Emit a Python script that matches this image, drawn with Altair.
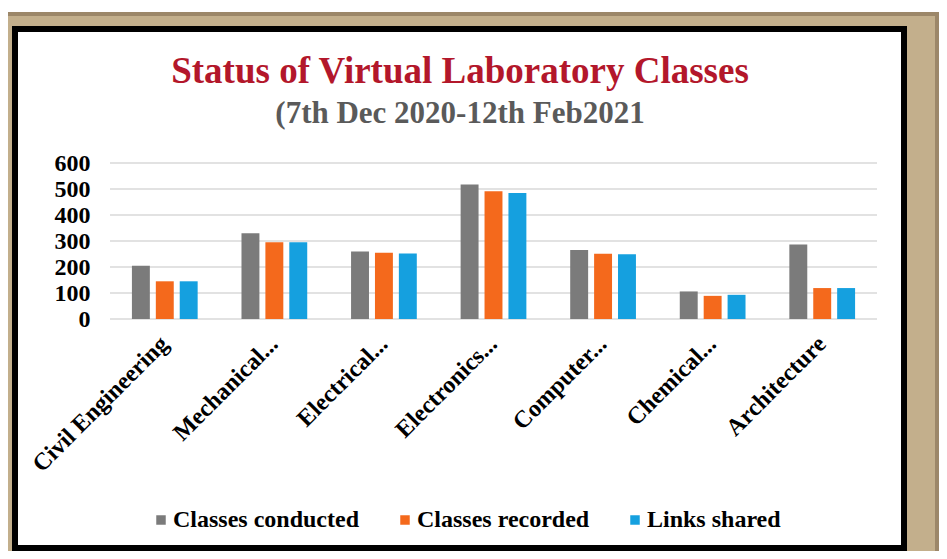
import altair as alt
import pandas as pd

# ---- data ----
categories = ["Civil Engineering", "Mechanical...", "Electrical...", "Electronics...",
              "Computer...", "Chemical...", "Architecture"]
series = ["Classes conducted", "Classes recorded", "Links shared"]
conducted = [205, 330, 260, 517, 265, 106, 287]
recorded = [145, 295, 255, 491, 251, 89, 119]
links = [145, 295, 252, 485, 249, 93, 119]
y_ticks = [0, 100, 200, 300, 400, 500, 600]
colors = ["#7b7b7b", "#f4691c", "#15a0df"]
title_text = "Status of Virtual Laboratory Classes"
subtitle_text = "(7th Dec 2020-12th Feb2021"

rows = []
for i, c in enumerate(categories):
    for s, vals in zip(series, [conducted, recorded, links]):
        rows.append({"category": c, "series": s, "value": vals[i]})
df = pd.DataFrame(rows)

W, H = 767, 156
FONT = "Liberation Serif"
TAN = "#c3af8c"
DARK_TAN = "#9c8769"

one = alt.Data(values=[{"k": 0}])

# decorative frame (white panel with black border, tan edges)
panel = alt.Chart(one).mark_rect(fill="white", stroke="black", strokeWidth=6).encode(
    x=alt.value(-95), x2=alt.value(794), y=alt.value(-134), y2=alt.value(385))
white_top = alt.Chart(one).mark_rect(fill="white").encode(
    x=alt.value(-102), x2=alt.value(829), y=alt.value(-155), y2=alt.value(-151))
dark_top = alt.Chart(one).mark_rect(fill=DARK_TAN).encode(
    x=alt.value(-102), x2=alt.value(829), y=alt.value(-151), y2=alt.value(-147))
dark_right = alt.Chart(one).mark_rect(fill=DARK_TAN).encode(
    x=alt.value(825), x2=alt.value(829), y=alt.value(-151), y2=alt.value(390))

y_axis = alt.Axis(title=None, values=y_ticks, grid=False, domain=False, ticks=False,
                  tickSize=0, labelPadding=20, labelFont=FONT, labelFontSize=24,
                  labelFontWeight="bold", labelColor="black", zindex=1)
y_scale = alt.Scale(domain=[0, 600], nice=False)

grid = alt.Chart(pd.DataFrame({"value": y_ticks})).mark_rule(
    color="#d9d9d9", strokeWidth=1.5).encode(
    y=alt.Y("value:Q", scale=y_scale, axis=y_axis))

bars = alt.Chart(df).mark_bar().encode(
    x=alt.X("category:N", sort=categories,
            scale=alt.Scale(paddingInner=0.4, paddingOuter=0.2),
            axis=alt.Axis(title=None, labelAngle=-45, labelAlign="right",
                          labelBaseline="middle", labelPadding=21, labelFont=FONT,
                          labelFontWeight="bold", labelFontSize=24, labelColor="black",
                          ticks=False, tickSize=0, domain=False, zindex=1,
                          labelLimit=0, labelOverlap=False)),
    xOffset=alt.XOffset("series:N", sort=series,
                        scale=alt.Scale(paddingInner=0.25, paddingOuter=0)),
    y=alt.Y("value:Q", scale=y_scale, axis=y_axis),
    color=alt.Color("series:N", sort=series,
                    scale=alt.Scale(domain=series, range=colors),
                    legend=alt.Legend(orient="none", legendX=39, legendY=345,
                                      direction="horizontal", title=None,
                                      symbolType="square", symbolSize=90,
                                      symbolStrokeWidth=0, labelFont=FONT,
                                      labelFontSize=24, labelFontWeight="bold",
                                      labelColor="black", columnPadding=33,
                                      labelOffset=0, labelLimit=0)),
)

title = alt.Chart(one).mark_text(
    text=title_text, font=FONT, fontSize=37, fontWeight="bold", color="#b3172b",
    align="center", baseline="alphabetic").encode(x=alt.value(350), y=alt.value(-80))
subtitle = alt.Chart(one).mark_text(
    text=subtitle_text, font=FONT, fontSize=31, fontWeight="bold", color="#5a5a5a",
    align="center", baseline="alphabetic").encode(x=alt.value(350), y=alt.value(-40))

chart = alt.layer(panel, white_top, dark_top, dark_right, grid, bars, title, subtitle).properties(
    width=W, height=H,
    autosize=alt.AutoSizeParams(type="none"),
    padding={"left": 102, "top": 155, "right": 62, "bottom": 232},
    background=TAN,
).configure_view(stroke=None)

chart.save("out.html", embed_options={"renderer": "svg", "actions": False})
